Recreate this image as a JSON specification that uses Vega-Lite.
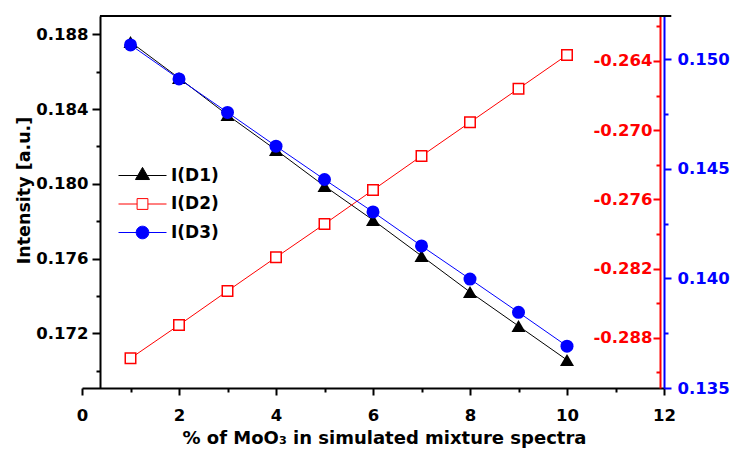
{
  "$schema": "https://vega.github.io/schema/vega-lite/v6.json",
  "width": 582,
  "height": 372,
  "autosize": {"type": "none"},
  "padding": {"left": 82, "top": 16, "right": 66, "bottom": 62},
  "background": "white",
  "config": {
    "view": {"stroke": null},
    "font": "DejaVu Sans",
    "axis": {
      "grid": false,
      "labelFont": "DejaVu Sans", "labelFontWeight": "bold", "labelFontSize": 16.5,
      "titleFont": "DejaVu Sans", "titleFontWeight": "bold", "titleFontSize": 17.5,
      "domainWidth": 2, "tickWidth": 2,
      "labelColor": "black", "titleColor": "black", "domainColor": "black", "tickColor": "black",
      "labelFlush": false, "labelOverlap": false
    }
  },
  "data": {"values": [
    {"pct": 1, "value": 0.18759, "series": "I(D1)"},
    {"pct": 2, "value": 0.18566, "series": "I(D1)"},
    {"pct": 3, "value": 0.18368, "series": "I(D1)"},
    {"pct": 4, "value": 0.18181, "series": "I(D1)"},
    {"pct": 5, "value": 0.17988, "series": "I(D1)"},
    {"pct": 6, "value": 0.17806, "series": "I(D1)"},
    {"pct": 7, "value": 0.17614, "series": "I(D1)"},
    {"pct": 8, "value": 0.17421, "series": "I(D1)"},
    {"pct": 9, "value": 0.17239, "series": "I(D1)"},
    {"pct": 10, "value": 0.17057, "series": "I(D1)"},
    {"pct": 1, "value": -0.28979, "series": "I(D2)"},
    {"pct": 2, "value": -0.28690, "series": "I(D2)"},
    {"pct": 3, "value": -0.28395, "series": "I(D2)"},
    {"pct": 4, "value": -0.28103, "series": "I(D2)"},
    {"pct": 5, "value": -0.27814, "series": "I(D2)"},
    {"pct": 6, "value": -0.27519, "series": "I(D2)"},
    {"pct": 7, "value": -0.27224, "series": "I(D2)"},
    {"pct": 8, "value": -0.26932, "series": "I(D2)"},
    {"pct": 9, "value": -0.26640, "series": "I(D2)"},
    {"pct": 10, "value": -0.26348, "series": "I(D2)"},
    {"pct": 1, "value": 0.15065, "series": "I(D3)"},
    {"pct": 2, "value": 0.14910, "series": "I(D3)"},
    {"pct": 3, "value": 0.14757, "series": "I(D3)"},
    {"pct": 4, "value": 0.14603, "series": "I(D3)"},
    {"pct": 5, "value": 0.14451, "series": "I(D3)"},
    {"pct": 6, "value": 0.14303, "series": "I(D3)"},
    {"pct": 7, "value": 0.14148, "series": "I(D3)"},
    {"pct": 8, "value": 0.13997, "series": "I(D3)"},
    {"pct": 9, "value": 0.13845, "series": "I(D3)"},
    {"pct": 10, "value": 0.13691, "series": "I(D3)"}
  ]},
  "layer": [
    {
      "transform": [{"filter": "datum.series === 'I(D1)'"}],
      "mark": {"type": "line", "strokeWidth": 1},
      "encoding": {
        "x": {"field": "pct", "type": "quantitative",
          "scale": {"domain": [0, 12], "nice": false, "zero": false},
          "axis": {"orient": "bottom", "values": [0, 2, 4, 6, 8, 10, 12], "tickSize": 7,
            "labelPadding": 25, "labelBaseline": "alphabetic",
            "title": "% of MoO₃ in simulated mixture spectra", "titleFontSize": 18,
            "titleX": 302, "titleY": 55, "titleBaseline": "alphabetic"}},
        "y": {"field": "value", "type": "quantitative",
          "scale": {"domain": [0.169073, 0.188979], "nice": false, "zero": false},
          "axis": {"orient": "left", "offset": -18, "values": [0.172, 0.176, 0.18, 0.184, 0.188],
            "format": ".3f", "tickSize": 8, "labelPadding": 4,
            "title": "Intensity [a.u.]", "titleX": -67, "titleY": 174}},
        "color": {"field": "series", "type": "nominal",
          "scale": {"domain": ["I(D1)", "I(D2)", "I(D3)"], "range": ["black", "#ff0000", "#0000ff"]},
          "legend": {
            "title": null, "orient": "none", "legendX": 52, "legendY": 151,
            "labelFont": "DejaVu Sans", "labelFontWeight": "bold", "labelFontSize": 17, "labelColor": "black",
            "symbolSize": 144, "symbolStrokeWidth": 1, "labelOffset": 20, "rowPadding": 10.5, "padding": 0,
            "encode": {"symbols": {"update": {
              "shape": {"signal": "datum.value === 'I(D1)' ? 'M-4,0H4M0,-1.35L1.17,0.67L-1.17,0.67Z' : datum.value === 'I(D2)' ? 'M-4,0H-0.9M0.9,0H4M-0.9,-0.9H0.9V0.9H-0.9Z' : 'M-4,0H4M1.05,0A1.05,1.05 0 1,1 -1.05,0A1.05,1.05 0 1,1 1.05,0Z'"},
              "fill": {"signal": "datum.value === 'I(D1)' ? 'black' : datum.value === 'I(D2)' ? 'white' : '#0000ff'"},
              "stroke": {"signal": "datum.value === 'I(D1)' ? 'black' : datum.value === 'I(D2)' ? '#ff0000' : '#0000ff'"},
              "strokeWidth": {"value": 1},
              "opacity": {"value": 1}
            }}}
          }}
      }
    },
    {
      "transform": [{"filter": "datum.series === 'I(D1)'"}],
      "mark": {"type": "point", "shape": "triangle-up", "filled": true, "size": 196, "color": "black", "opacity": 1},
      "encoding": {
        "x": {"field": "pct", "type": "quantitative",
          "axis": {"orient": "bottom", "values": [1, 3, 5, 7, 9, 11], "tickSize": 4, "labels": false, "domain": false, "title": null}},
        "y": {"field": "value", "type": "quantitative",
          "scale": {"domain": [0.169073, 0.188979], "nice": false, "zero": false},
          "axis": {"orient": "left", "offset": -18, "values": [0.17, 0.174, 0.178, 0.182, 0.186],
            "tickSize": 4, "labels": false, "domain": false, "title": null}}
      }
    },
    {
      "transform": [{"filter": "datum.series === 'I(D2)'"}],
      "mark": {"type": "line", "strokeWidth": 1, "color": "#ff0000"},
      "encoding": {
        "x": {"field": "pct", "type": "quantitative", "axis": null},
        "y": {"field": "value", "type": "quantitative",
          "scale": {"domain": [-0.292363, -0.260097], "nice": false, "zero": false},
          "axis": {"orient": "left", "offset": -578, "values": [-0.288, -0.282, -0.276, -0.27, -0.264],
            "format": ".3f", "labelExpr": "replace(datum.label, '−', '-')",
            "tickSize": 7, "labelPadding": 1, "title": null,
            "labelColor": "#ff0000", "tickColor": "#ff0000", "domainColor": "#ff0000"}}
      }
    },
    {
      "transform": [{"filter": "datum.series === 'I(D2)'"}],
      "mark": {"type": "point", "shape": "square", "filled": true, "size": 110, "fill": "white", "stroke": "#ff0000", "strokeWidth": 1.5, "opacity": 1},
      "encoding": {
        "x": {"field": "pct", "type": "quantitative", "axis": null},
        "y": {"field": "value", "type": "quantitative",
          "scale": {"domain": [-0.292363, -0.260097], "nice": false, "zero": false},
          "axis": {"orient": "left", "offset": -578, "values": [-0.291, -0.285, -0.279, -0.273, -0.267, -0.261],
            "tickSize": 4, "labels": false, "domain": false, "title": null, "tickColor": "#ff0000"}}
      }
    },
    {
      "transform": [{"filter": "datum.series === 'I(D3)'"}],
      "mark": {"type": "line", "strokeWidth": 1, "color": "#0000ff"},
      "encoding": {
        "x": {"field": "pct", "type": "quantitative", "axis": null},
        "y": {"field": "value", "type": "quantitative",
          "scale": {"domain": [0.135, 0.151968], "nice": false, "zero": false},
          "axis": {"orient": "right", "offset": 0, "values": [0.135, 0.14, 0.145, 0.15],
            "format": ".3f", "tickSize": 7, "labelPadding": 6, "title": null,
            "labelColor": "#0000ff", "tickColor": "#0000ff", "domainColor": "#0000ff"}}
      }
    },
    {
      "transform": [{"filter": "datum.series === 'I(D3)'"}],
      "mark": {"type": "point", "shape": "circle", "filled": true, "size": 169, "color": "#0000ff", "opacity": 1},
      "encoding": {
        "x": {"field": "pct", "type": "quantitative", "axis": null},
        "y": {"field": "value", "type": "quantitative",
          "scale": {"domain": [0.135, 0.151968], "nice": false, "zero": false},
          "axis": {"orient": "right", "offset": 0, "values": [0.1375, 0.1425, 0.1475],
            "tickSize": 4, "labels": false, "domain": false, "title": null, "tickColor": "#0000ff"}}
      }
    },
    {
      "data": {"values": [{}]},
      "mark": {"type": "rule", "color": "black", "strokeWidth": 2},
      "encoding": {
        "x": {"datum": 0.37, "type": "quantitative", "axis": null},
        "x2": {"datum": 12.15},
        "y": {"datum": 0.188979, "type": "quantitative",
          "scale": {"domain": [0.169073, 0.188979], "nice": false, "zero": false}, "axis": null}
      }
    }
  ],
  "resolve": {"scale": {"y": "independent"}, "axis": {"x": "independent", "y": "independent"}}
}
